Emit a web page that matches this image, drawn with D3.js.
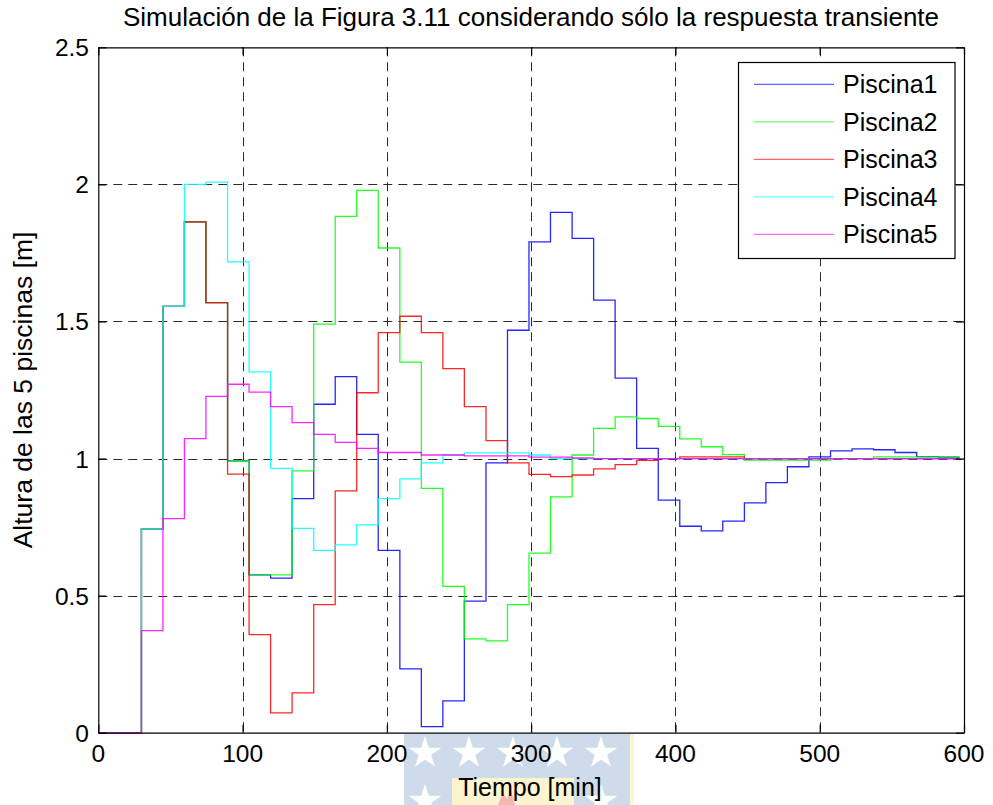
<!DOCTYPE html>
<html lang="es">
<head>
<meta charset="utf-8">
<title>Simulación de la Figura 3.11</title>
<script src="https://cdn.jsdelivr.net/npm/d3@7"></script>
<style>
  body { margin: 0; background: #fff; }
  svg { display: block; font-family: "Liberation Sans", Arial, sans-serif; }
</style>
</head>
<body>
<script>
// sample instants [min] of the stair plot (41 edges, 40 steps)
var tiempo = [0, 14.9, 29.9, 44.8, 59.7, 74.6, 89.6, 104.5, 119.4, 134.3,
  149.3, 164.2, 179.1, 194.0, 209.0, 223.9, 238.8, 253.7, 268.7, 283.6,
  298.5, 313.4, 328.4, 343.3, 358.2, 373.1, 388.1, 403.0, 417.9, 432.8,
  447.8, 462.7, 477.6, 492.5, 507.5, 522.4, 537.3, 552.2, 567.2, 582.1, 597.0];

// heights [m], one value per step
var piscina1 = [0, 0, 0.743, 1.555, 1.863, 1.569, 0.992, 0.576, 0.564, 0.854,
  1.198, 1.299, 1.088, 0.665, 0.233, 0.022, 0.116, 0.480, 0.984, 1.468,
  1.790, 1.898, 1.803, 1.578, 1.293, 1.037, 0.848, 0.753, 0.736, 0.772,
  0.838, 0.912, 0.970, 1.006, 1.028, 1.035, 1.032, 1.022, 1.007, 1.005];
var piscina2 = [0, 0, 0.743, 1.555, 1.863, 1.569, 0.992, 0.576, 0.576, 0.955,
  1.490, 1.883, 1.978, 1.768, 1.352, 0.891, 0.534, 0.342, 0.335, 0.467,
  0.655, 0.860, 1.013, 1.110, 1.152, 1.146, 1.117, 1.072, 1.043, 1.014,
  0.994, 0.994, 0.994, 0.994, 1.000, 1.000, 1.006, 1.006, 1.006, 1.006];
var piscina3 = [0, 0, 0.743, 1.555, 1.863, 1.569, 0.943, 0.358, 0.072, 0.145,
  0.467, 0.882, 1.240, 1.459, 1.519, 1.459, 1.328, 1.189, 1.065, 0.984,
  0.942, 0.934, 0.940, 0.962, 0.978, 0.993, 1.000, 1.006, 1.006, 1.006,
  1.000, 1.000, 1.000, 1.000, 1.000, 1.000, 1.000, 1.000, 1.000, 1.000];
var piscina4 = [0, 0, 0.743, 1.555, 2.000, 2.008, 1.717, 1.316, 0.964, 0.745,
  0.665, 0.685, 0.758, 0.854, 0.926, 0.984, 1.013, 1.021, 1.021, 1.021,
  1.013, 1.000, 1.000, 1.000, 1.000, 1.000, 1.000, 1.000, 1.000, 1.000,
  1.000, 1.000, 1.000, 1.000, 1.000, 1.000, 1.000, 1.000, 1.000, 1.000];
var piscina5 = [0, 0, 0.372, 0.781, 1.073, 1.227, 1.271, 1.242, 1.189, 1.131,
  1.088, 1.059, 1.037, 1.022, 1.022, 1.013, 1.013, 1.010, 1.010, 1.010,
  1.005, 1.005, 1.002, 1.000, 1.000, 1.000, 1.000, 1.000, 1.000, 1.000,
  1.000, 1.000, 1.000, 1.000, 1.000, 1.000, 1.000, 1.000, 1.000, 1.000];

var nombres = ["Piscina1", "Piscina2", "Piscina3", "Piscina4", "Piscina5"];
var colores = ["#0000ff", "#00ff00", "#ff0000", "#00ffff", "#ff00ff"];
var series = [piscina1, piscina2, piscina3, piscina4, piscina5];

var xTicks = [0, 100, 200, 300, 400, 500, 600];
var yTicks = [0, 0.5, 1, 1.5, 2, 2.5];

var w = 993, h = 805;
var pLeft = 98.3, pRight = 964, pTop = 47.3, pBottom = 732.7;

var svg = d3.select("body").append("svg")
    .attr("width", w)
    .attr("height", h);

var x = d3.scaleLinear().domain([0, 600]).range([pLeft, pRight]);
var y = d3.scaleLinear().domain([0, 2.5]).range([pBottom, pTop]);

// watermark from the scanned page, under the x labels
var marca = svg.append("g");
marca.append("rect").attr("x", 404).attr("y", 734).attr("width", 226).attr("height", 71).attr("fill", "#cddbeb");
marca.append("rect").attr("x", 630).attr("y", 734).attr("width", 4).attr("height", 71).attr("fill", "#fdf6d2");
marca.append("rect").attr("x", 452).attr("y", 778).attr("width", 122).attr("height", 27).attr("fill", "#fcf3cf");
var estrella = d3.symbol().type(d3.symbolStar).size(330);
[[425, 753], [469, 753], [513, 753], [557, 753], [601, 753], [425, 801], [601, 801]].forEach(function(p) {
  marca.append("path").attr("d", estrella).attr("transform", "translate(" + p[0] + "," + p[1] + ")").attr("fill", "#fff");
});
marca.append("path").attr("d", "M498,805 L503,793 L507,799 L511,790 L515,805 Z").attr("fill", "#f4b6b6");

// plot background
svg.append("rect").attr("x", pLeft).attr("y", pTop)
  .attr("width", pRight - pLeft).attr("height", pBottom - pTop).attr("fill", "#fff");

// grid
var grid = svg.append("g").attr("stroke", "#2a2a2a").attr("stroke-dasharray", "9,6").attr("stroke-width", 1);
grid.selectAll(".gx").data(xTicks.slice(1, -1)).enter().append("line")
  .attr("x1", function(d) { return Math.round(x(d)) + 0.5; })
  .attr("x2", function(d) { return Math.round(x(d)) + 0.5; })
  .attr("y1", pTop).attr("y2", pBottom);
grid.selectAll(".gy").data(yTicks.slice(1, -1)).enter().append("line")
  .attr("y1", function(d) { return Math.round(y(d)) + 0.5; })
  .attr("y2", function(d) { return Math.round(y(d)) + 0.5; })
  .attr("x1", pLeft).attr("x2", pRight);

// stair lines
var linea = d3.line()
  .x(function(d) { return x(d[0]); })
  .y(function(d) { return y(d[1]); })
  .curve(d3.curveStepAfter);

series.forEach(function(s, k) {
  var pts = s.map(function(v, i) { return [tiempo[i], v]; });
  pts.push([tiempo[s.length], s[s.length - 1]]);
  svg.append("path")
    .attr("d", linea(pts))
    .attr("fill", "none")
    .attr("stroke", colores[k])
    .attr("stroke-opacity", 0.85)
    .attr("stroke-width", 1.3);
});

// axes box with inward ticks
var ejes = svg.append("g");
ejes.append("g").attr("transform", "translate(0," + pBottom + ")")
  .call(d3.axisBottom(x).tickValues(xTicks).tickSizeInner(-8).tickSizeOuter(0).tickFormat(""));
ejes.append("g").attr("transform", "translate(0," + pTop + ")")
  .call(d3.axisTop(x).tickValues(xTicks).tickSizeInner(-8).tickSizeOuter(0).tickFormat(""));
ejes.append("g").attr("transform", "translate(" + pLeft + ",0)")
  .call(d3.axisLeft(y).tickValues(yTicks).tickSizeInner(-8).tickSizeOuter(0).tickFormat(""));
ejes.append("g").attr("transform", "translate(" + pRight + ",0)")
  .call(d3.axisRight(y).tickValues(yTicks).tickSizeInner(-8).tickSizeOuter(0).tickFormat(""));
ejes.selectAll("path, line").attr("stroke", "#000").attr("stroke-width", 1.2);

// tick labels
svg.selectAll(".xl").data(xTicks).enter().append("text")
  .attr("x", function(d) { return x(d); })
  .attr("y", 762)
  .attr("text-anchor", "middle")
  .attr("font-size", "24.5px")
  .text(function(d) { return d; });
svg.selectAll(".yl").data(yTicks).enter().append("text")
  .attr("x", 89)
  .attr("y", function(d) { return y(d) + 9; })
  .attr("text-anchor", "end")
  .attr("font-size", "24.5px")
  .text(function(d) { return d; });

// titles
svg.append("text").attr("x", 531).attr("y", 26).attr("text-anchor", "middle")
  .attr("font-size", "26px").text("Simulación de la Figura 3.11 considerando sólo la respuesta transiente");
svg.append("text").attr("x", 530).attr("y", 796).attr("text-anchor", "middle")
  .attr("font-size", "25px").text("Tiempo [min]");
svg.append("text").attr("transform", "translate(32,390) rotate(-90)").attr("text-anchor", "middle")
  .attr("font-size", "26.5px").text("Altura de las 5 piscinas [m]");

// legend
var ley = svg.append("g");
ley.append("rect").attr("x", 738.5).attr("y", 62.5).attr("width", 216.5).attr("height", 196)
  .attr("fill", "#fff").attr("stroke", "#000").attr("stroke-width", 1.2);
nombres.forEach(function(n, k) {
  var yy = 84.3 + k * 37.5;
  ley.append("line").attr("x1", 754).attr("x2", 834).attr("y1", yy).attr("y2", yy)
    .attr("stroke", colores[k]).attr("stroke-opacity", 0.6).attr("stroke-width", 1.3);
  ley.append("text").attr("x", 843).attr("y", yy + 9).attr("font-size", "25px").text(n);
});
</script>
</body>
</html>
